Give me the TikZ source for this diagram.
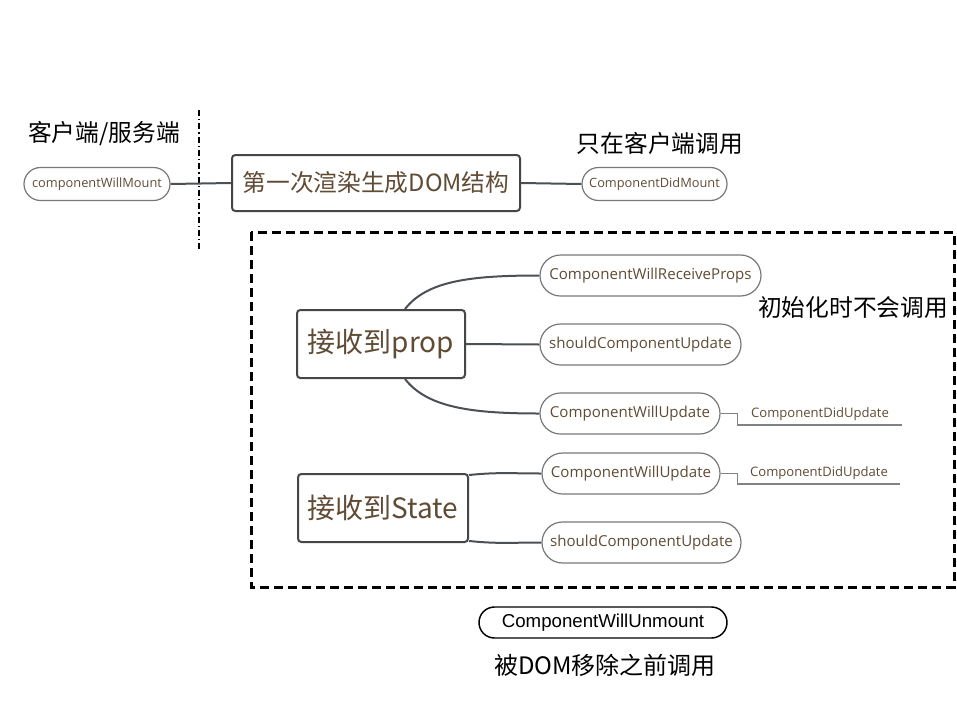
\documentclass[tikz,border=0pt]{standalone}
\usepackage{fontspec}
\setmainfont{Noto Sans CJK SC}
\newfontfamily\cjkfam{Noto Sans CJK SC}
\newfontfamily\pillfam{Open Sans}
\newfontfamily\arialfam{Liberation Sans}
\usetikzlibrary{shapes.misc}
\definecolor{txtbrown}{RGB}{96,76,52}
\definecolor{pillgray}{RGB}{120,120,120}
\definecolor{boxgray}{RGB}{70,70,70}
\definecolor{linkgray}{RGB}{75,80,85}
\definecolor{leafgray}{RGB}{130,130,130}
\begin{document}
\begin{tikzpicture}[x=0.75pt,y=-0.75pt,
  size/.style 2 args={minimum width=#1*0.75pt, minimum height=#2*0.75pt},
  pill/.style={rounded rectangle, draw=pillgray, line width=0.9pt, fill=white,
    text=txtbrown, inner sep=0pt, font=\pillfam\fontsize{11.3pt}{13pt}\selectfont},
  smallpill/.style={pill, font=\pillfam\fontsize{9.6pt}{11pt}\selectfont},
  topic/.style={rectangle, rounded corners=2.5pt, draw=boxgray, line width=1.5pt,
    fill=white, text=txtbrown, inner sep=0pt},
  link/.style={draw=linkgray, line width=1.5pt},
  leaf/.style={draw=leafgray, line width=1pt},
  leaftext/.style={inner xsep=0pt, inner ysep=3pt, anchor=south, text=txtbrown,
    font=\pillfam\fontsize{9.8pt}{11pt}\selectfont},
  note/.style={inner sep=0pt, text=black, font=\cjkfam\fontsize{17.8pt}{20pt}\selectfont}]
\useasboundingbox (0,0) rectangle (957,711);
\fill[white] (0,0) rectangle (957,711);

% client / server divider
\draw[line width=1.5pt, dash pattern=on 4.5pt off 2.2pt on 1.1pt off 2.2pt] (199,110) -- (199,250);

% first render row
\node[note] (lblboth) at (104,134) {客户端/服务端};
\node[smallpill, size={146}{33}] (cwm) at (97,184) {componentWillMount};
\node[topic, size={288}{56}, font=\cjkfam\fontsize{17.8pt}{21pt}\selectfont] (first) at (376,183) {第一次渲染生成DOM结构};
\node[smallpill, size={145}{33}] (cdm) at (654.5,184) {ComponentDidMount};
\node[note] (lblclient) at (660,143) {只在客户端调用};
\draw[link] (cwm.east) -- (first.west);
\draw[link] (first.east) -- (cdm.west);

% update phase group
\draw[line width=2.25pt, dash pattern=on 6.75pt off 3.75pt] (251,232) rectangle (954,587);
\node[note] (lblinit) at (853,308) {初始化时不会调用};

% props branch
\node[topic, size={168}{68}, font=\cjkfam\fontsize{21pt}{24pt}\selectfont] (prop) at (381,344) {接收到prop};
\node[pill, size={221}{41}] (cwrp) at (650.5,275.5) {ComponentWillReceiveProps};
\node[pill, size={201}{41}] (scu1) at (640.5,344.5) {shouldComponentUpdate};
\node[pill, size={180}{41}] (cwu1) at (630,413.5) {ComponentWillUpdate};
\node[leaftext, minimum width=164*0.75pt] (cdu1) at (820,425) {ComponentDidUpdate};
\draw[link] ([xshift=18pt]prop.north) .. controls +(22,-28) and +(-70,0) .. (cwrp.west);
\draw[link] (prop.east) -- (scu1.west);
\draw[link] ([xshift=18pt]prop.south) .. controls +(22,28) and +(-70,0) .. (cwu1.west);
\draw[leaf] (cwu1.east) -| (cdu1.south west) -- (cdu1.south east);

% state branch
\node[topic, size={170}{68}, font=\cjkfam\fontsize{21pt}{24pt}\selectfont] (state) at (383,508) {接收到State};
\node[pill, size={178}{41}] (cwu2) at (631,473.5) {ComponentWillUpdate};
\node[pill, size={199}{41}] (scu2) at (641.5,542.5) {shouldComponentUpdate};
\node[leaftext, minimum width=162*0.75pt] (cdu2) at (819,484) {ComponentDidUpdate};
\draw[link] ([yshift=-1.5pt]state.north east) .. controls +(30,-3) and +(-30,0) .. (cwu2.west);
\draw[link] ([yshift=1.5pt]state.south east) .. controls +(30,3) and +(-30,0) .. (scu2.west);
\draw[leaf] (cwu2.east) -| (cdu2.south west) -- (cdu2.south east);

% unmount
\node[rounded rectangle, draw=black, line width=1.1pt, inner sep=0pt, size={248}{31},
  font=\arialfam\fontsize{14pt}{16pt}\selectfont] (unmount) at (603,622.5) {ComponentWillUnmount};
\node[note, font=\cjkfam\fontsize{18pt}{20pt}\selectfont] (lblunmount) at (605,665) {被DOM移除之前调用};
\end{tikzpicture}
\end{document}
